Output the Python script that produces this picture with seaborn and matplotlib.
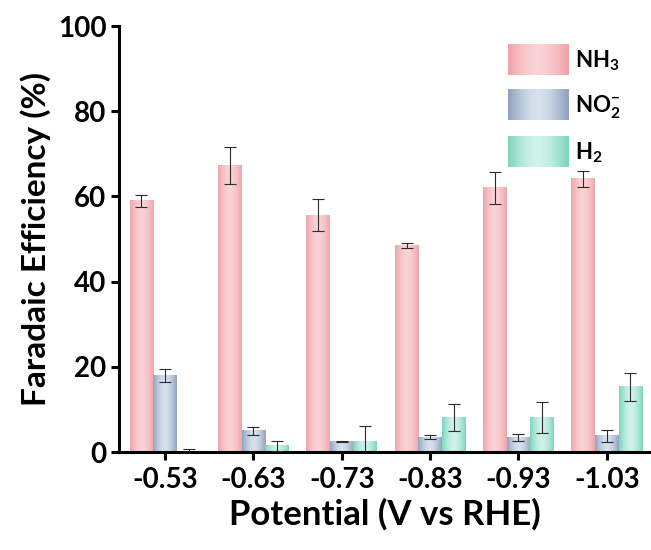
import numpy as np
import pandas as pd
import matplotlib
matplotlib.use("Agg")
import matplotlib.pyplot as plt
import seaborn as sns
from matplotlib.legend_handler import HandlerBase
from matplotlib.patches import Rectangle
from matplotlib.colors import to_rgb

# Faradaic efficiency (%) at each applied potential
potentials = ["-0.53", "-0.63", "-0.73", "-0.83", "-0.93", "-1.03"]
products = ["NH$_3$", "NO$_2^{-}$", "H$_2$"]
fe_nh3 = [59.0, 67.2, 55.6, 48.5, 62.0, 64.1]
fe_no2 = [18.0, 5.0, 2.5, 3.5, 3.4, 3.8]
fe_h2 = [0.2, 1.5, 2.5, 8.1, 8.1, 15.3]
err_nh3 = [1.4, 4.3, 3.7, 0.5, 3.8, 1.8]
err_no2 = [1.6, 1.0, 0.2, 0.4, 0.8, 1.4]
err_h2 = [0.6, 1.2, 3.7, 3.2, 3.7, 3.2]

edge_colors = ["#F0A4AB", "#91A3BE", "#7FD5BD"]
center_colors = ["#FAD3D6", "#D6E1EC", "#D0F3EA"]

sns.set_theme(style="ticks")
plt.rcParams["font.family"] = ["Lato", "DejaVu Sans"]
plt.rcParams["font.weight"] = "bold"
plt.rcParams["text.color"] = "black"
plt.rcParams["axes.labelcolor"] = "black"
plt.rcParams["mathtext.fontset"] = "custom"
plt.rcParams["mathtext.rm"] = "Lato:bold"
plt.rcParams["mathtext.it"] = "Lato:bold"
plt.rcParams["mathtext.bf"] = "Lato:bold"

df = pd.DataFrame({
    "Potential": potentials * 3,
    "Product": [products[0]] * 6 + [products[1]] * 6 + [products[2]] * 6,
    "FE": fe_nh3 + fe_no2 + fe_h2,
})
errors = [err_nh3, err_no2, err_h2]

fig = plt.figure(figsize=(6.51, 5.50), dpi=100)
ax = fig.add_axes([0.1828, 0.178, 0.8172, 0.7747])

sns.barplot(data=df, x="Potential", y="FE", hue="Product", order=potentials,
            hue_order=products, palette=edge_colors, errorbar=None,
            width=0.8, ax=ax, legend=False, linewidth=0)


def gradient_rgba(edge, center, n=64):
    t = np.linspace(0, 1, n)
    w = 1 - np.abs(2 * t - 1) ** 1.6
    e = np.array(to_rgb(edge))
    c = np.array(to_rgb(center))
    cols = e[None, :] * (1 - w[:, None]) + c[None, :] * w[:, None]
    return cols[None, :, :]


bar_containers = list(ax.containers)[:len(products)]
for k, container in enumerate(bar_containers):
    grad = gradient_rgba(edge_colors[k], center_colors[k])
    xs, hs = [], []
    for bar in container:
        x0 = bar.get_x()
        w = bar.get_width()
        h = bar.get_height()
        bar.set_facecolor("none")
        ax.imshow(grad, extent=(x0, x0 + w, 0, h), aspect="auto",
                  interpolation="bilinear", zorder=1.5)
        xs.append(x0 + w / 2)
        hs.append(h)
    ax.errorbar(xs, hs, yerr=errors[k], fmt="none", ecolor="#2b2b2b",
                elinewidth=0.8, capsize=4, capthick=0.8, zorder=3)

ax.set_xlim(-0.52, 5.5)
ax.set_ylim(0, 100)
ax.set_yticks([0, 20, 40, 60, 80, 100])

for s in ["top", "right"]:
    ax.spines[s].set_visible(False)
for s in ["left", "bottom"]:
    ax.spines[s].set_linewidth(2.2)
    ax.spines[s].set_color("black")
ax.tick_params(axis="both", direction="out", length=6, width=2.2,
               labelsize=20, colors="black", pad=3)
ax.tick_params(axis="x", pad=5)
for lab in ax.get_xticklabels() + ax.get_yticklabels():
    lab.set_fontweight("bold")

ax.set_xlabel("Potential (V vs RHE)", fontsize=25, fontweight="bold", labelpad=3)
ax.set_ylabel("Faradaic Efficiency (%)", fontsize=24, fontweight="bold", labelpad=5)


class GradientHandler(HandlerBase):
    def __init__(self, edge, center):
        super().__init__()
        self.edge = edge
        self.center = center

    def create_artists(self, legend, orig_handle, xdescent, ydescent,
                       width, height, fontsize, trans):
        n = 30
        cols = gradient_rgba(self.edge, self.center, n)[0]
        arts = []
        for i in range(n):
            r = Rectangle((-xdescent + width * i / n, -ydescent - 0.25 * height),
                          width / n * 1.05, height * 1.55,
                          facecolor=cols[i], edgecolor="none", transform=trans)
            arts.append(r)
        return arts


handles = [Rectangle((0, 0), 1, 1) for _ in products]
handler_map = {h: GradientHandler(edge_colors[i], center_colors[i])
               for i, h in enumerate(handles)}
leg = fig.legend(handles, products, handler_map=handler_map,
                 loc="upper left", bbox_to_anchor=(0.781, 0.912),
                 frameon=False, fontsize=16, handlelength=2.7,
                 handleheight=1.0, labelspacing=0.92, handletextpad=0.3,
                 borderpad=0, borderaxespad=0)
for t in leg.get_texts():
    t.set_fontweight("bold")

fig.savefig("out.png", dpi=100)
